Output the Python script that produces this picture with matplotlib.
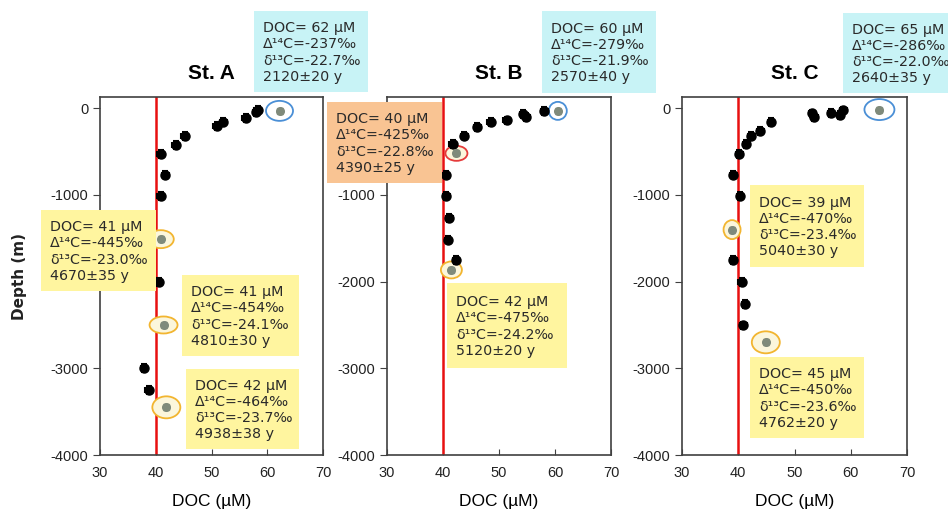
import matplotlib
matplotlib.use("Agg")
import matplotlib.pyplot as plt
from matplotlib.patches import Ellipse, Rectangle

plt.rcParams['axes.unicode_minus'] = False

# ---- profile data (DOC in uM, depth in m) ----
A_doc = [58.3, 58.0, 56.1, 52.1, 50.9, 45.2, 43.6, 40.9, 41.7, 40.9, 40.5, 37.9, 38.7]
A_depth = [-20, -45, -110, -160, -200, -320, -425, -530, -765, -1010, -2000, -3000, -3250]
B_doc = [58.1, 54.3, 54.9, 51.4, 48.5, 46.1, 43.8, 41.7, 40.5, 40.6, 41.1, 40.9, 42.3]
B_depth = [-30, -70, -100, -140, -160, -215, -315, -415, -765, -1015, -1265, -1515, -1755]
C_doc = [58.7, 58.1, 56.5, 53.1, 53.5, 45.8, 43.9, 42.3, 41.4, 40.2, 39.1, 40.3, 39.1, 40.6, 41.2, 40.9]
C_depth = [-25, -80, -50, -60, -105, -160, -260, -315, -415, -525, -765, -1010, -1750, -2005, -2260, -2505]

# ---- radiocarbon samples (highlighted points) ----
A_hi_doc = [62.2, 40.9, 41.4, 41.9]
A_hi_depth = [-30, -1510, -2500, -3450]
A_ring = ['blue', 'orange', 'orange', 'orange']
A_lab_doc = [62, 41, 41, 42]
A_d14c = [-237, -445, -454, -464]
A_d13c = [-22.7, -23.0, -24.1, -23.7]
A_age = [2120, 4670, 4810, 4938]
A_age_err = [20, 35, 30, 38]

B_hi_doc = [60.5, 42.4, 41.5]
B_hi_depth = [-30, -520, -1865]
B_ring = ['blue', 'red', 'orange']
B_lab_doc = [60, 40, 42]
B_d14c = [-279, -425, -475]
B_d13c = [-21.9, -22.8, -24.2]
B_age = [2570, 4390, 5120]
B_age_err = [40, 25, 20]

C_hi_doc = [65.1, 38.9, 44.9]
C_hi_depth = [-15, -1400, -2700]
C_ring = ['blue', 'orange', 'orange']
C_lab_doc = [65, 39, 45]
C_d14c = [-286, -470, -450]
C_d13c = [-22.0, -23.4, -23.6]
C_age = [2640, 5040, 4762]
C_age_err = [35, 30, 20]

titles = ['St. A', 'St. B', 'St. C']

ring_edge = {'blue': '#4a8fd6', 'orange': '#f2b530', 'red': '#e53b3b'}
ring_fill = {'blue': 'none', 'orange': '#fbf6dc', 'red': '#fbf6dc'}
box_fill = {'blue': '#c8f3f6', 'orange': '#fff59f', 'red': '#f9c493'}

W, H = 948, 516
fig = plt.figure(figsize=(W / 100, H / 100), dpi=100)

# axes placement in pixels (left, right)
ax_px = [(100, 323), (387, 611), (682, 907)]
top_px, bot_px = 97, 455
# ring sizes in pixels (w, h)
ring_px = [[(27, 20), (26, 18), (28, 17), (28, 22)],
           [(18, 18), (22, 15), (21, 17)],
           [(30, 21), (17, 19), (28, 22)]]
# annotation boxes in pixels (left, top, right, bottom)
box_px = [[(254, 11, 368, 92), (41, 210, 156, 291), (182, 275, 299, 356), (186, 369, 299, 449)],
          [(542, 11, 656, 93), (327, 102, 442, 183), (447, 283, 567, 368)],
          [(843, 13, 948, 93), (750, 185, 864, 267), (750, 357, 864, 438)]]
# y tick labels hidden under the boxes
hidden_ticks = [[-2000], [0], []]

stations = [
    (A_doc, A_depth, A_hi_doc, A_hi_depth, A_ring, A_lab_doc, A_d14c, A_d13c, A_age, A_age_err),
    (B_doc, B_depth, B_hi_doc, B_hi_depth, B_ring, B_lab_doc, B_d14c, B_d13c, B_age, B_age_err),
    (C_doc, C_depth, C_hi_doc, C_hi_depth, C_ring, C_lab_doc, C_d14c, C_d13c, C_age, C_age_err),
]

ov = fig.add_axes([0, 0, 1, 1])
ov.set_xlim(0, W)
ov.set_ylim(H, 0)
ov.axis('off')
ov.patch.set_alpha(0)
ov.set_zorder(10)

yt = [0, -1000, -2000, -3000, -4000]

for i, st in enumerate(stations):
    doc, depth, hdoc, hdep, ring, ldoc, d14, d13, age, aerr = st
    l, r = ax_px[i]
    ax = fig.add_axes([l / W, 1 - bot_px / H, (r - l) / W, (bot_px - top_px) / H])
    ax.set_xlim(30, 70)
    ax.set_ylim(-4000, 130)
    ax.set_xticks([30, 40, 50, 60, 70])
    ax.set_yticks(yt)
    ax.set_yticklabels(['' if v in hidden_ticks[i] else str(v) for v in yt])
    ax.tick_params(axis='x', direction='in', length=4, labelsize=10.5, pad=8,
                   color='#404040', labelcolor='#222222')
    ax.tick_params(axis='y', direction='out', length=5, labelsize=10.5,
                   color='#404040', labelcolor='#222222')
    for lab in ax.get_xticklabels() + ax.get_yticklabels():
        lab.set_family('Liberation Sans')
    for sp in ax.spines.values():
        sp.set_color('#404040')
        sp.set_linewidth(1.2)

    ax.axvline(40, color='#e81010', lw=1.8, zorder=2)
    ax.errorbar(doc, depth, xerr=0.6, yerr=45, fmt='o', ms=6.5, color='black',
                ecolor='black', elinewidth=1.5, capsize=2.5, capthick=1.5, zorder=4)

    pxx = (r - l) / 40.0
    pxy = (bot_px - top_px) / 4130.0
    for j in range(len(hdoc)):
        wpx, hpx = ring_px[i][j]
        ax.add_patch(Ellipse((hdoc[j], hdep[j]), wpx / pxx, hpx / pxy,
                             facecolor=ring_fill[ring[j]], edgecolor=ring_edge[ring[j]],
                             lw=1.3, zorder=3))
    ax.errorbar(hdoc, hdep, xerr=0.4, yerr=35, fmt='o', ms=5.5, color='#7f8a7b',
                ecolor='#7f8a7b', elinewidth=1.3, capsize=2, zorder=5)

    ax.set_xlabel('DOC (µM)', family='Liberation Sans', fontsize=12.5, labelpad=10)
    ax.set_title(titles[i], family='Liberation Sans', fontweight='bold', fontsize=15, pad=13)

    for j in range(len(hdoc)):
        bl, bt, br, bb = box_px[i][j]
        ov.add_patch(Rectangle((bl, bt), br - bl, bb - bt,
                               facecolor=box_fill[ring[j]], edgecolor='none'))
        txt = (f"DOC= {ldoc[j]} µM\nΔ¹⁴C={d14[j]}‰\nδ¹³C={d13[j]:.1f}‰\n"
               f"{age[j]}±{aerr[j]} y")
        ov.text(bl + 9, (bt + bb) / 2 + 1, txt, ha='left', va='center',
                fontsize=10.3, color='#2a2a2a', linespacing=1.2, family='DejaVu Sans')

fig.text(20 / W, 1 - 277 / H, 'Depth (m)', rotation=90, ha='center', va='center',
         fontsize=11, fontweight='bold', color='#222222')

fig.savefig('out.png', dpi=100)
